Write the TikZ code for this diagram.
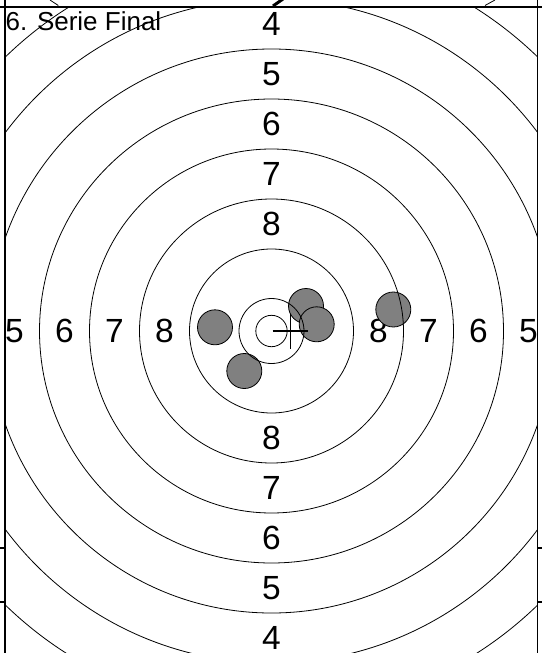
\documentclass[tikz,border=0pt]{standalone}
\usepackage{fontspec}
\setmainfont{Liberation Sans}
\usetikzlibrary{calc}
\begin{document}
\begin{tikzpicture}[x=1pt,y=-1pt,
  ringline/.style={draw=black, line width=0.8pt},
  frameline/.style={draw=black, line width=1.6pt},
  hit/.style={circle, draw=black, line width=0.8pt, fill=gray, minimum size=35pt, inner sep=0pt},
  lbl/.style={font=\fontsize{33.5}{33.5}\selectfont, inner sep=0pt},
  crossline/.style={draw=black, line width=1.2pt}]
\useasboundingbox (0,0) rectangle (542,653);
\coordinate (C) at (271.5,331);
% labels
\foreach \n/\d in {8/107,7/157,6/207,5/257} {
  \node[lbl] (lt\n) at ($(C)+(0,-\d)$) {\n};
  \node[lbl] (lb\n) at ($(C)+(0,\d)$) {\n};
  \node[lbl] (ll\n) at ($(C)+(-\d,0)$) {\n};
  \node[lbl] (lr\n) at ($(C)+(\d,0)$) {\n};
}
\node[lbl] (lt4) at ($(C)+(0,-307)$) {4};
\node[lbl] (lb4) at ($(C)+(0,307)$) {4};
\node[font=\fontsize{26}{26}\selectfont, inner sep=0pt, anchor=base west] (title) at (5.5,30) {6. Serie Final};
% hits
\node[hit] (h1) at (215,327.3) {};
\node[hit] (h2) at (244.3,371) {};
\node[hit] (h3) at (306,306) {};
\node[hit] (h4) at (316.7,324.3) {};
\node[hit] (h5) at (393.3,309.5) {};
% rings
\begin{scope}
\clip (5,7) rectangle (537,653);
\foreach \r in {15.7,32.5,82,132,182,232,282,332,382} {
  \draw[ringline] (C) circle[radius=\r];
}
\end{scope}
% cross
\coordinate (xc) at (290.5,331);
\draw[crossline] ($(xc)+(-17.8,0)$) -- ($(xc)+(17.8,0)$);
\draw[crossline] ($(xc)+(0,-17.5)$) -- ($(xc)+(0,17.5)$);
% frame
\draw[frameline] (0,7) -- (542,7);
\draw[frameline] (5,0) -- (5,653);
\draw[frameline] (537.5,0) -- (537.5,653);
\foreach \y in {548,602} {
  \draw[line width=1.2pt] (0,\y) -- (5,\y);
  \draw[line width=1.2pt] (537.5,\y) -- (542,\y);
}
% fragments above frame
\draw[ringline] (50,0) -- (58.3,5.5);
\draw[ringline] (485,5.5) -- (495,0);
\draw[line width=3pt] (273,6) -- (283,-1);
\end{tikzpicture}
\end{document}
